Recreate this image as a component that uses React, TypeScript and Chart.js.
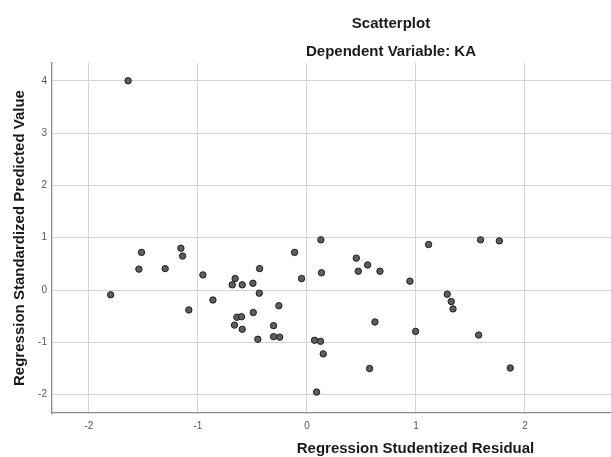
import React, { useEffect, useRef } from "react";
import Chart from "chart.js/auto";

const titleLines = ["Scatterplot", "Dependent Variable: KA"];
const xAxisTitle = "Regression Studentized Residual";
const yAxisTitle = "Regression Standardized Predicted Value";

const residuals = [
  -1.64, -1.517, -1.156, -1.14, -1.541, -1.3, -1.8, -1.083, -0.954, -0.862,
  -0.658, -0.685, -0.593, -0.495, -0.434, -0.437, -0.113, -0.049, 0.128, 0.134,
  -0.257, -0.642, -0.6, -0.664, -0.593, -0.492, -0.306, -0.45, -0.306, -0.25,
  0.07, 0.125, 0.15, 0.089, 0.453, 0.557, 0.471, 0.67, 0.945, 1.116,
  1.593, 1.765, 1.287, 1.324, 1.34, 0.624, 0.997, 1.575, 0.575, 1.865,
];
const predicted = [
  4.0, 0.72, 0.8, 0.65, 0.4, 0.41, -0.09, -0.38, 0.29, -0.19,
  0.22, 0.1, 0.1, 0.13, 0.41, -0.06, 0.72, 0.22, 0.96, 0.33,
  -0.3, -0.52, -0.51, -0.67, -0.75, -0.43, -0.68, -0.94, -0.89, -0.9,
  -0.96, -0.98, -1.22, -1.95, 0.61, 0.48, 0.36, 0.36, 0.17, 0.87,
  0.96, 0.94, -0.08, -0.22, -0.36, -0.61, -0.79, -0.86, -1.5, -1.49,
];
const xTicks = [-2, -1, 0, 1, 2, 3, 4];
const yTicks = [-2, -1, 0, 1, 2, 3, 4];

const FONT = "'Liberation Sans', Arial, sans-serif";

export default function App() {
  const ref = useRef<HTMLCanvasElement | null>(null);

  useEffect(() => {
    if (!ref.current) return;
    const points = residuals.map((x, i) => ({ x, y: predicted[i] }));
    const chart = new Chart(ref.current, {
      type: "scatter",
      data: {
        datasets: [
          {
            data: points,
            backgroundColor: "#5e5e5e",
            borderColor: "#1e1e1e",
            borderWidth: 1,
            pointRadius: 3.2,
          },
        ],
      },
      options: {
        responsive: false,
        animation: false,
        devicePixelRatio: 1,
        layout: { padding: { left: 0, right: 2, top: 0, bottom: 0 } },
        plugins: {
          legend: { display: false },
          tooltip: { enabled: false },
          title: {
            display: true,
            text: titleLines,
            color: "#1a1a1a",
            font: { family: FONT, size: 15, weight: "bold", lineHeight: "28px" },
            padding: { top: 10, bottom: -3 },
          },
        },
        scales: {
          x: {
            type: "linear",
            min: -2.338,
            max: 4.33,
            afterBuildTicks: (s: any) => {
              s.ticks = xTicks.map((v) => ({ value: v }));
            },
            afterFit: (s: any) => {
              s.height = 44;
            },
            grid: { color: "#d4d4d4", lineWidth: 1, drawTicks: false },
            border: { color: "#8a8a8a", width: 1.3 },
            ticks: {
              padding: 7,
              color: "#555",
              font: { family: FONT, size: 10 },
              maxRotation: 0,
            },
            title: {
              display: true,
              text: xAxisTitle,
              color: "#1a1a1a",
              font: { family: FONT, size: 15, weight: "bold", lineHeight: "16px" },
              padding: { top: 0, bottom: 0 },
            },
          },
          y: {
            type: "linear",
            min: -2.35,
            max: 4.34,
            afterBuildTicks: (s: any) => {
              s.ticks = yTicks.map((v) => ({ value: v }));
            },
            afterFit: (s: any) => {
              s.width = 52;
            },
            grid: { color: "#d4d4d4", lineWidth: 1, drawTicks: false },
            border: { color: "#8a8a8a", width: 1.3 },
            ticks: {
              padding: 5,
              color: "#555",
              font: { family: FONT, size: 10 },
            },
            title: {
              display: true,
              text: yAxisTitle,
              color: "#1a1a1a",
              font: { family: FONT, size: 15, weight: "bold", lineHeight: "16px" },
              padding: { top: 12, bottom: 0 },
            },
          },
        },
      },
    });
    return () => chart.destroy();
  }, []);

  return (
    <div
      style={{
        position: "fixed",
        left: 0,
        top: 0,
        width: 611,
        height: 457,
        overflow: "hidden",
        background: "#fff",
      }}
    >
      <canvas ref={ref} width={784} height={457} style={{ display: "block" }} />
    </div>
  );
}
